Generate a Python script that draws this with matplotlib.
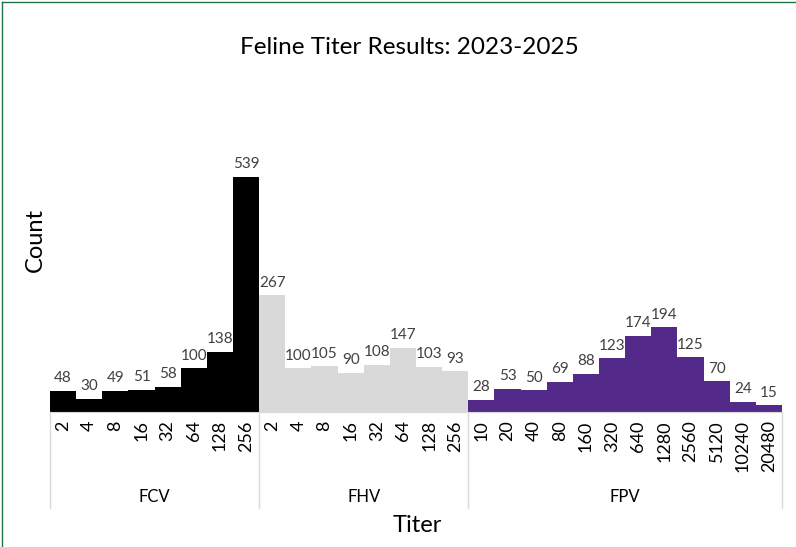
import matplotlib.pyplot as plt
import matplotlib.transforms as mtransforms

plt.rcParams["font.family"] = ["Lato", "DejaVu Sans"]

groups = ["FCV", "FHV", "FPV"]
fcv_titers = ["2", "4", "8", "16", "32", "64", "128", "256"]
fcv_counts = [48, 30, 49, 51, 58, 100, 138, 539]
fhv_titers = ["2", "4", "8", "16", "32", "64", "128", "256"]
fhv_counts = [267, 100, 105, 90, 108, 147, 103, 93]
fpv_titers = ["10", "20", "40", "80", "160", "320", "640", "1280", "2560",
              "5120", "10240", "20480"]
fpv_counts = [28, 53, 50, 69, 88, 123, 174, 194, 125, 70, 24, 15]

colours = ["#000000", "#d9d9d9", "#532a8a"]

W, H = 796, 547
fig = plt.figure(figsize=(W / 100, H / 100), dpi=100)
ax = fig.add_axes([50 / W, 1 - 412 / H, 732 / W, 262 / H])

series = [(fcv_titers, fcv_counts), (fhv_titers, fhv_counts), (fpv_titers, fpv_counts)]
tick_pos, tick_lab, bounds = [], [], [0]
start = 0
for (titers, counts), col in zip(series, colours):
    xs = [start + i for i in range(len(counts))]
    ax.bar(xs, counts, width=1.0, align="edge", color=col, linewidth=0)
    for x, c in zip(xs, counts):
        ax.annotate(str(c), (x + 0.5, c), xytext=(0, 4), textcoords="offset points",
                    ha="center", va="bottom", fontsize=11, color="#404040")
    tick_pos += [x + 0.5 for x in xs]
    tick_lab += titers
    start += len(counts)
    bounds.append(start)

ax.set_xlim(0, start)
ax.set_ylim(0, 600)
ax.set_yticks([])
ax.set_xticks(tick_pos)
ax.set_xticklabels(tick_lab, rotation=90, fontsize=13, va="top")
ax.tick_params(axis="x", length=0, pad=6)
for s in ["top", "right", "left"]:
    ax.spines[s].set_visible(False)
ax.spines["bottom"].set_color("#d9d9d9")

# group separators and group names under the tick labels
tr = mtransforms.blended_transform_factory(ax.transData, fig.transFigure)
for b in bounds:
    ax.plot([b, b], [1 - 412 / H, 1 - 508 / H], transform=tr, color="#d9d9d9",
            lw=1, clip_on=False)
for g, a, b in zip(groups, bounds[:-1], bounds[1:]):
    ax.text((a + b) / 2, 1 - 497 / H, g, transform=tr, ha="center", va="center",
            fontsize=12, color="#000000")

fig.text(409 / W, 1 - 48 / H, "Feline Titer Results: 2023-2025", ha="center",
         va="center", fontsize=17.5)
fig.text(417 / W, 1 - 525 / H, "Titer", ha="center", va="center", fontsize=17)
fig.text(35 / W, 1 - 240 / H, "Count", ha="center", va="center", fontsize=17,
         rotation=90)

# excel frame edge
fig.add_artist(plt.Line2D([2 / W, 2 / W], [0, 1 - 2 / H], transform=fig.transFigure,
                          color="#217346", lw=1))
fig.add_artist(plt.Line2D([2 / W, 1], [1 - 2 / H, 1 - 2 / H], transform=fig.transFigure,
                          color="#217346", lw=1))

fig.savefig("out.png", dpi=100)
